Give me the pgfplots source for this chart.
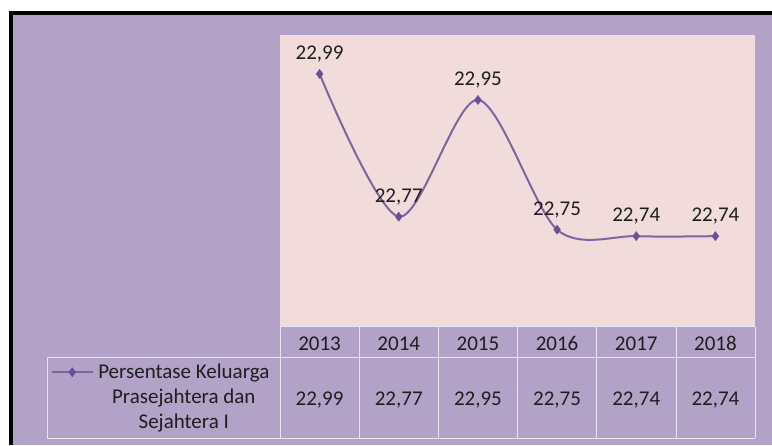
\documentclass[border=0pt]{standalone}
\usepackage{pgfplots}
\usepackage{pgfplotstable}
\pgfplotsset{compat=1.18}
\usepackage{fontspec}
\setmainfont{Carlito}
\definecolor{bgpurple}{HTML}{B2A2C7}
\definecolor{plotpink}{HTML}{F2DCDB}
\definecolor{linepurple}{HTML}{8064A2}
\definecolor{markpurple}{HTML}{6B4F9B}
\definecolor{gridw}{HTML}{EAE4F2}
\definecolor{txt}{HTML}{1E1E1E}
\pgfplotstableread{
x y
0 22.99
1 22.77
2 22.95
3 22.75
4 22.74
5 22.74
}\datatable
\begin{document}
\begin{tikzpicture}
\useasboundingbox (0pt,0pt) rectangle (772pt,445pt);
\fill[white] (0pt,0pt) rectangle (772pt,445pt);
\fill[bgpurple] (11pt,0pt) rectangle (772pt,432pt);
\begin{axis}[
 at={(280pt,118pt)}, anchor=south west, scale only axis,
 width=475pt, height=292pt,
 xmin=-0.5, xmax=5.5, ymin=22.6, ymax=23.05,
 axis background/.style={fill=plotpink},
 axis line style={draw=none},
 major tick length=0pt,
 ytick=\empty,
 xtick={0,...,5}, xticklabels={2013,2014,2015,2016,2017,2018},
 xticklabel style={anchor=base, yshift=-23pt, font=\fontsize{21}{25}\selectfont, text=txt},
 clip=false,
 /pgf/number format/use comma,
 /pgf/number format/fixed,
 /pgf/number format/fixed zerofill,
 /pgf/number format/precision=2,
 /pgf/number format/assume math mode=true,
 legend style={draw=none, fill=none, inner sep=0pt, at={(-0.482,-0.12)}, anchor=north west,
   font=\fontsize{21}{25}\selectfont, text=txt, nodes={align=center}},
 legend image code/.code={\path (43pt,25pt); \draw[mark repeat=2, mark phase=2] plot coordinates {(0pt,25pt)(20pt,25pt)(40pt,25pt)};},
]
\addplot[linepurple, line width=2pt, smooth, mark=diamond*, mark size=4.5pt,
  mark options={fill=markpurple, draw=markpurple, line width=0.5pt},
  nodes near coords,
  nodes near coords style={font=\fontsize{21}{25}\selectfont, text=txt, anchor=south, yshift=8pt}]
  table[x=x,y=y]{\datatable};
\addlegendentry{Persentase Keluarga\\Prasejahtera dan\\Sejahtera I}
\addplot[draw=none, mark=none, forget plot, point meta=explicit,
  nodes near coords,
  nodes near coords style={font=\fontsize{21}{25}\selectfont, text=txt, anchor=base, yshift=-78pt}]
  table[x=x, y expr=22.6, meta=y]{\datatable};
\end{axis}
\begin{scope}[gridw, line width=1pt]
\draw (280pt,118pt) -- (755pt,118pt);
\draw (47pt,87pt) -- (755pt,87pt);
\draw (47pt,7pt) -- (755pt,7pt);
\foreach \xx in {280,359,438,517,596,676,755} {\draw (\xx pt,7pt) -- (\xx pt,118pt);}
\draw (47pt,7pt) -- (47pt,87pt);
\end{scope}
\draw[black, line width=4pt, line join=miter] (11pt,0pt) -- (11pt,432pt) -- (772pt,432pt);
\end{tikzpicture}
\end{document}
